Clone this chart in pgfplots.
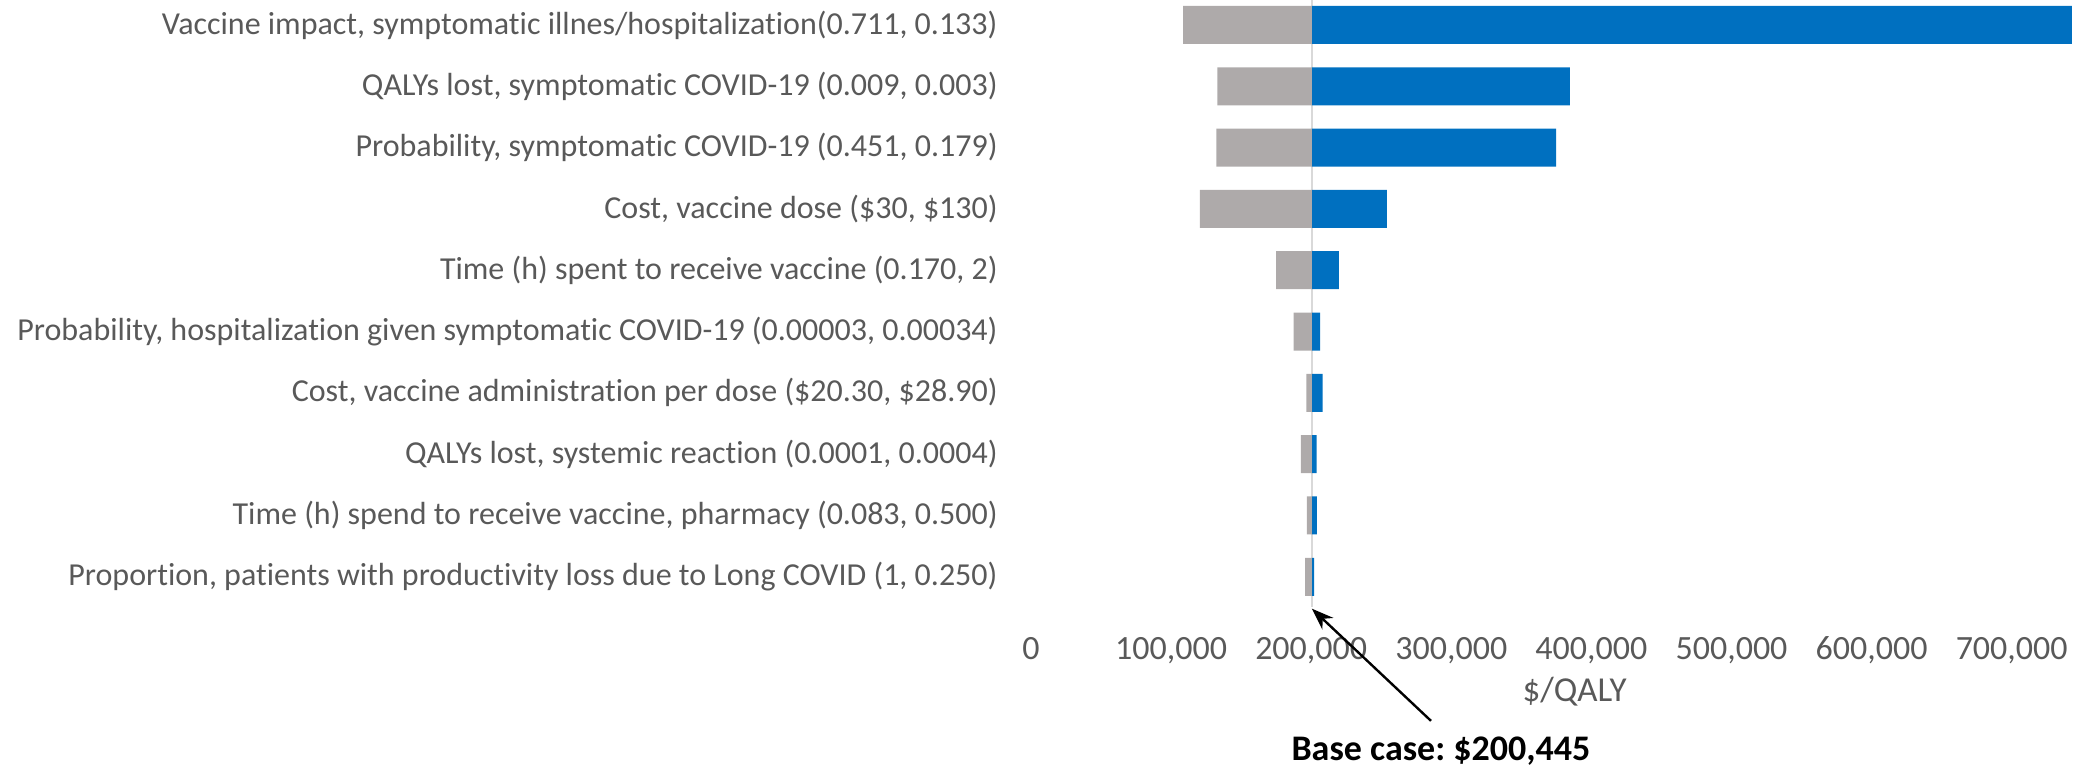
\documentclass[border=0pt]{standalone}
\usepackage{pgfplots}
\pgfplotsset{compat=1.18}
\usepackage{pgfplotstable}
\usepackage{fontspec}
\setmainfont{Carlito}[Ligatures=NoCommon]
\frenchspacing
\usetikzlibrary{arrows.meta}
\definecolor{bargrey}{HTML}{AEAAAA}
\definecolor{barblue}{HTML}{0070C0}
\definecolor{txtgrey}{HTML}{595959}
\definecolor{axgrey}{HTML}{D9D9D9}

% idx, low, high (cost per QALY); base case 200445
\pgfplotstableread{
idx low high
0 108500 743000
1 133000 384700
2 132300 374900
3 120600 254000
4 174900 219800
5 187500 206300
6 196500 208200
7 192700 203900
8 197000 204100
9 195600 202100
}\tornado
\def\basecase{200445}

\begin{document}
\begin{tikzpicture}
\begin{axis}[
  at={(515.5pt,80.3pt)}, anchor=south west,
  scale only axis, width=560.4pt, height=306.55pt,
  xbar stacked, bar width=0.62,
  xmin=0, xmax=800000, ymin=-0.5, ymax=9.5, y dir=reverse,
  clip=false,
  axis line style={draw=none}, tick style={draw=none},
  xtick={0,100000,...,700000},
  scaled x ticks=false,
  /pgf/number format/fixed,
  /pgf/number format/1000 sep={,},
  /pgf/number format/assume math mode=true,
  xticklabel style={anchor=base, yshift=-26.1pt, font=\fontsize{17}{20}\selectfont, text=txtgrey},
  ytick={0,...,9},
  yticklabels={
    {Vaccine impact, symptomatic illnes/hospitalization(0.711, 0.133)},
    {QALYs lost, symptomatic COVID-19 (0.009, 0.003)},
    {Probability, symptomatic COVID-19 (0.451, 0.179)},
    {Cost, vaccine dose (\$30, \$130)},
    {Time (h) spent to receive vaccine (0.170, 2)},
    {Probability, hospitalization given symptomatic COVID-19 (0.00003, 0.00034)},
    {Cost, vaccine administration per dose (\$20.30, \$28.90)},
    {QALYs lost, systemic reaction (0.0001, 0.0004)},
    {Time (h) spend to receive vaccine, pharmacy (0.083, 0.500)},
    {Proportion, patients with productivity loss due to Long COVID (1, 0.250)}},
  yticklabel style={anchor=east, inner sep=0pt, xshift=-16.5pt, font=\fontsize{16}{19}\selectfont, text=txtgrey},
]
\addplot[draw=none, fill=none, forget plot] table[y=idx, x=low] {\tornado};
\addplot[draw=none, fill=bargrey] table[y=idx, x expr=\basecase-\thisrow{low}] {\tornado};
\addplot[draw=none, fill=barblue] table[y=idx, x expr=\thisrow{high}-\basecase] {\tornado};
\draw[axgrey, line width=1.2pt] (axis cs:\basecase,-0.5) -- (axis cs:\basecase,9.5);
\draw[black, line width=1.2pt, -{Stealth[length=11pt,width=8pt]}] (axis cs:285500,11.35) -- (axis cs:\basecase,9.52);
\node[font=\fontsize{17.5}{20}\selectfont, text=txtgrey, anchor=base] at (axis cs:388000,11.03) {\$/QALY};
\node[font=\fontsize{18}{21}\selectfont\bfseries, text=black, anchor=base] at (axis cs:292600,12.0) {Base case: \$200,445};
\end{axis}
\pgfresetboundingbox
\path[use as bounding box] (0,0) rectangle (1041pt,384pt);
\end{tikzpicture}
\end{document}
